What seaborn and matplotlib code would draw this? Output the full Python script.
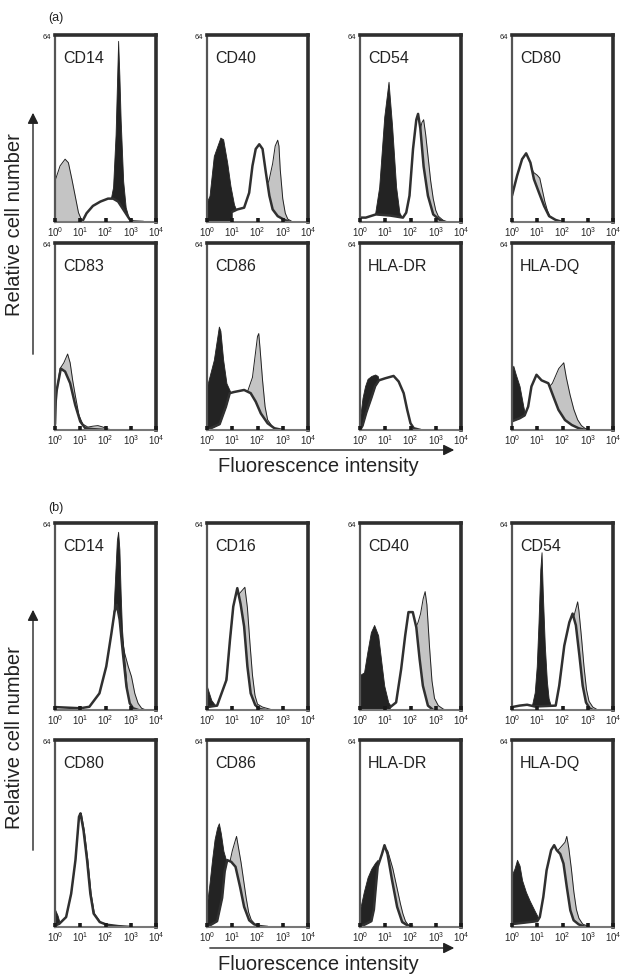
import numpy as np
import matplotlib
matplotlib.use("Agg")
import matplotlib.pyplot as plt
import seaborn as sns

# knots: (log10 fluorescence, cell count), 64 = top of the frame
# ---- panel set (a)
A_CD14_BLACK = [(2.1, 0), (2.2, 7.5), (2.3, 12), (2.4, 30), (2.5, 62), (2.55, 50), (2.6, 35),
                (2.7, 14), (2.8, 5), (2.9, 2), (3.0, 0.5), (3.1, 0)]
A_CD14_GRAY = [(0, 14), (0.2, 19.2), (0.4, 21.5), (0.53, 20.3), (0.67, 14.6), (0.8, 8.9),
               (0.93, 3.2), (1.07, 0.3), (1.2, 0)]
A_CD14_LINE = [(0.95, 0), (1.1, 0.5), (1.25, 3), (1.5, 5.5), (1.8, 7), (2.1, 8), (2.3, 8),
               (2.5, 7), (2.65, 5), (2.8, 3), (2.95, 1), (3.1, 0.2), (3.5, 0)]

A_CD40_BLACK = [(0, 7), (0.1, 9), (0.27, 22.6), (0.53, 28.9), (0.64, 28.3), (0.8, 20.3),
                (0.93, 12.3), (1.07, 6), (1.2, 3.2), (1.47, 2), (1.7, 1), (2.0, 0.3), (2.3, 0)]
A_CD40_GRAY = [(1.5, 0), (1.8, 5), (2.2, 10), (2.45, 14), (2.6, 20), (2.7, 26), (2.8, 28),
               (2.85, 26), (2.9, 18), (3.0, 8), (3.1, 3), (3.2, 1), (3.4, 0)]
A_CD40_LINE = [(1.0, 3.5), (1.2, 4.3), (1.47, 4.9), (1.67, 10), (1.8, 19.2), (1.93, 25),
               (2.07, 26.6), (2.2, 25), (2.33, 17), (2.47, 9), (2.6, 4.3), (2.8, 2),
               (3.07, 0.7), (3.3, 0)]

A_CD54_BLACK = [(0.5, 0), (0.6, 3), (0.76, 12), (0.96, 36), (1.13, 48), (1.27, 33), (1.43, 12),
                (1.56, 3.2), (1.7, 1), (1.9, 0)]
A_CD54_GRAY = [(1.8, 0), (2.0, 8), (2.2, 20), (2.35, 30), (2.45, 34), (2.52, 35), (2.6, 30),
               (2.7, 22), (2.8, 14), (2.9, 8), (3.0, 4), (3.1, 2), (3.3, 0.5), (3.4, 0)]
A_CD54_LINE = [(0, 1.5), (0.23, 1.5), (0.63, 2.6), (1.2, 2.2), (1.7, 1.5), (1.83, 3.2),
               (1.96, 9), (2.1, 25), (2.23, 35), (2.3, 37), (2.39, 32), (2.52, 19), (2.69, 9),
               (2.9, 2.6), (3.16, 0.7), (3.4, 0)]

A_CD80_BLACK = []
A_CD80_GRAY = [(0, 9), (0.2, 15.8), (0.4, 21.5), (0.56, 23.5), (0.7, 20), (0.85, 17), (1.0, 16),
               (1.1, 15), (1.2, 11), (1.3, 7), (1.4, 4), (1.5, 2), (1.7, 0.5), (2.0, 0)]
A_CD80_LINE = [(0, 9), (0.2, 15.8), (0.4, 21.5), (0.56, 23.5), (0.73, 20.3), (0.87, 14.6),
               (1.07, 10), (1.27, 5.5), (1.47, 2), (1.73, 0.7), (2.0, 0)]

A_CD83_BLACK = [(0, 3), (0.1, 2.5), (0.25, 0.5), (0.4, 0)]
A_CD83_GRAY = [(0, 10), (0.2, 21), (0.35, 23), (0.5, 26), (0.6, 23), (0.7, 17), (0.8, 12),
               (0.95, 5), (1.1, 2), (1.3, 1), (1.5, 1.3), (1.7, 1.5), (1.9, 1), (2.1, 0.3),
               (2.3, 0)]
A_CD83_LINE = [(0, 2), (0.03, 10), (0.07, 13.7), (0.23, 21), (0.4, 20), (0.6, 16), (0.8, 8.6),
               (1.0, 2.9), (1.2, 0.6), (1.5, 0.3), (2.0, 0)]

A_CD86_BLACK = [(0, 15), (0.27, 24), (0.47, 35.4), (0.53, 34), (0.64, 24), (0.77, 16),
                (0.9, 13.5), (1.1, 8), (1.3, 0)]
A_CD86_GRAY = [(1.4, 0), (1.6, 13), (1.8, 18), (1.9, 25), (2.0, 32), (2.05, 33), (2.1, 28),
               (2.2, 17), (2.3, 8), (2.4, 3.5), (2.6, 1), (2.8, 0)]
A_CD86_LINE = [(0, 0), (0.5, 2), (0.75, 8), (0.9, 12.6), (1.07, 13), (1.47, 13.7), (1.73, 12.6),
               (1.93, 9.7), (2.13, 5.7), (2.4, 2.3), (2.67, 0.6), (3.0, 0)]

A_HLADR_BLACK = [(0, 4), (0.1, 11), (0.2, 15), (0.3, 17.5), (0.45, 18.5), (0.6, 19), (0.7, 18.5),
                 (0.8, 15), (0.9, 8), (1.0, 3), (1.1, 0)]
A_HLADR_GRAY = []
A_HLADR_LINE = [(0, 0), (0.1, 1.5), (0.25, 6), (0.45, 11), (0.6, 15), (0.75, 17), (1.0, 17.7),
                (1.33, 18.5), (1.53, 16.6), (1.73, 12.6), (1.87, 6.9), (2.0, 2.3), (2.13, 0.6),
                (2.4, 0)]

A_HLADQ_BLACK = [(0, 20), (0.05, 22), (0.15, 19), (0.3, 15), (0.45, 8), (0.55, 4), (0.65, 2),
                 (0.8, 0.5), (1.0, 0)]
A_HLADQ_GRAY = [(1.2, 0), (1.5, 15), (1.6, 16), (1.7, 18), (1.85, 21), (1.95, 22), (2.05, 23),
                (2.15, 18), (2.3, 12), (2.45, 7), (2.6, 3.5), (2.75, 1.5), (2.9, 0.5), (3.1, 0)]
A_HLADQ_LINE = [(0, 3), (0.3, 4), (0.5, 5), (0.64, 8), (0.77, 14.9), (0.97, 18.9), (1.17, 17),
                (1.44, 16), (1.64, 11.4), (1.84, 6.9), (2.1, 3.4), (2.37, 1.7), (2.64, 0.6),
                (2.9, 0)]

# ---- panel set (b)
B_CD14_BLACK = [(2.0, 4), (2.1, 8), (2.25, 20), (2.35, 40), (2.45, 58), (2.5, 61), (2.55, 55),
                (2.6, 40), (2.65, 28), (2.7, 22), (2.75, 17), (2.8, 12), (2.85, 6), (2.9, 2),
                (3.0, 0)]
B_CD14_GRAY = [(2.2, 0), (2.5, 40), (2.65, 25), (2.76, 19.4), (2.9, 14.9), (3.03, 11.4),
               (3.16, 5.7), (3.29, 2.3), (3.43, 0.6), (3.6, 0)]
B_CD14_LINE = [(0, 1), (0.5, 0.8), (1.0, 0.6), (1.36, 1.1), (1.76, 5.7), (2.03, 14.9),
               (2.23, 26), (2.36, 33.7), (2.45, 36), (2.56, 30.9), (2.69, 19.4), (2.83, 8),
               (2.96, 2.3), (3.09, 0.6), (3.3, 0)]

B_CD16_BLACK = [(0, 8), (0.17, 3.4), (0.37, 1.1), (0.6, 0.3), (1.0, 0)]
B_CD16_GRAY = [(0.6, 0), (0.9, 20), (1.05, 33), (1.2, 38), (1.3, 40), (1.4, 41), (1.5, 42),
               (1.6, 35), (1.7, 23), (1.8, 12), (1.9, 5), (2.0, 2), (2.2, 1), (2.4, 0.5), (2.6, 0)]
B_CD16_LINE = [(0, 1), (0.4, 1.5), (0.77, 10.3), (0.91, 24), (1.04, 35.4), (1.2, 41.7),
               (1.33, 36.3), (1.47, 28.6), (1.6, 14.9), (1.73, 5.7), (1.91, 1.7), (2.1, 0.3),
               (2.3, 0)]

B_CD40_BLACK = [(0, 12), (0.16, 12.9), (0.29, 19.8), (0.43, 26.6), (0.56, 29.1), (0.72, 25.5),
                (0.83, 17.5), (0.96, 8.3), (1.12, 2.6), (1.29, 0.6), (1.5, 0)]
B_CD40_GRAY = [(1.6, 0), (2.2, 28), (2.3, 30), (2.4, 33), (2.5, 38), (2.58, 40.5), (2.65, 36),
               (2.75, 22), (2.85, 10), (2.95, 4), (3.1, 1.5), (3.3, 0.3), (3.4, 0)]
B_CD40_LINE = [(1.2, 1), (1.43, 2.6), (1.63, 14), (1.79, 25.5), (1.92, 33.5), (2.09, 33.5),
               (2.23, 28.3), (2.36, 17.5), (2.49, 8.3), (2.69, 1.5), (2.9, 0)]

B_CD54_BLACK = [(0.7, 0.5), (0.8, 2), (0.9, 6), (0.98, 15), (1.05, 30), (1.12, 48), (1.17, 54),
                (1.22, 40), (1.3, 22), (1.38, 10), (1.45, 4), (1.55, 1), (1.7, 0)]
B_CD54_GRAY = [(1.8, 0), (2.1, 20), (2.3, 28), (2.45, 32), (2.6, 37), (2.65, 34), (2.75, 25),
               (2.85, 15), (2.95, 7), (3.05, 3), (3.2, 1), (3.4, 0)]
B_CD54_LINE = [(0, 1), (0.3, 1.5), (0.6, 1.8), (0.9, 1.2), (1.73, 1.5), (1.87, 8.3), (2.07, 22),
               (2.27, 30), (2.4, 33), (2.53, 29), (2.67, 18.6), (2.8, 8.3), (2.93, 2.6),
               (3.07, 0.6), (3.2, 0)]

B_CD80_BLACK = [(0, 6), (0.1, 4), (0.2, 1), (0.3, 0)]
B_CD80_GRAY = [(0.2, 1.1), (0.47, 3.4), (0.67, 11.4), (0.84, 22.9), (0.98, 37.7), (1.04, 38.9),
               (1.16, 33), (1.3, 22.9), (1.43, 11.4), (1.56, 4.6), (1.8, 1.7), (2.07, 0.8),
               (2.5, 0.3), (3.0, 0)]
B_CD80_LINE = [(0, 0.5), (0.17, 1.1), (0.44, 3.4), (0.64, 11.4), (0.81, 22.9), (0.95, 37.7),
               (1.01, 38.9), (1.13, 33), (1.27, 22.9), (1.4, 11.4), (1.53, 4.6), (1.77, 1.7),
               (2.04, 0.8), (2.5, 0.3), (3.0, 0)]

B_CD86_BLACK = [(0, 8), (0.1, 15), (0.2, 23), (0.3, 30), (0.4, 34), (0.47, 35.5), (0.55, 32),
                (0.65, 26), (0.75, 23), (0.85, 18), (0.95, 12), (1.05, 6), (1.15, 2), (1.3, 0)]
B_CD86_GRAY = [(0.6, 0), (0.9, 22), (1.0, 26), (1.1, 29), (1.17, 31), (1.25, 27), (1.35, 22),
               (1.45, 16), (1.55, 10), (1.65, 5), (1.75, 2.5), (1.9, 1), (2.1, 0.3), (2.3, 0)]
B_CD86_LINE = [(0, 0), (0.4, 2), (0.6, 10), (0.7, 19), (0.8, 22.9), (0.96, 22.3), (1.13, 20.6),
               (1.31, 13.7), (1.47, 6.9), (1.67, 2.3), (1.87, 0.9), (2.1, 0.3), (2.4, 0)]

B_HLADR_BLACK = [(0, 6), (0.15, 12), (0.3, 17), (0.45, 20), (0.6, 22), (0.7, 23), (0.8, 19),
                 (0.9, 11), (1.0, 4), (1.1, 1), (1.2, 0)]
B_HLADR_GRAY = [(0.6, 0), (0.9, 25), (1.0, 27), (1.1, 26), (1.2, 23), (1.3, 20), (1.4, 16),
                (1.5, 12), (1.6, 8), (1.7, 4.5), (1.8, 2), (1.9, 0.8), (2.05, 0.2), (2.2, 0)]
B_HLADR_LINE = [(0, 0), (0.45, 2), (0.55, 6), (0.62, 13), (0.7, 20.6), (0.87, 25), (0.97, 28),
                (1.09, 25), (1.27, 16), (1.47, 6.9), (1.67, 1.7), (1.87, 0.6), (2.1, 0)]

B_HLADQ_BLACK = [(0, 18), (0.1, 20), (0.2, 23), (0.3, 21), (0.4, 16), (0.55, 12), (0.7, 9),
                 (0.9, 5.5), (1.05, 3), (1.25, 1.5), (1.45, 0.5), (1.6, 0)]
B_HLADQ_GRAY = [(1.3, 0), (1.7, 26), (1.8, 26), (1.9, 27), (2.0, 28), (2.1, 29), (2.17, 31),
                (2.25, 27), (2.35, 20), (2.45, 12), (2.55, 6), (2.65, 3), (2.8, 1), (3.0, 0.3),
                (3.1, 0)]
B_HLADQ_LINE = [(0, 1), (0.5, 1.5), (1.0, 2), (1.1, 3.4), (1.24, 10.3), (1.37, 19.4),
                (1.55, 26.3), (1.67, 28), (1.77, 26.3), (1.91, 25), (2.04, 21.7), (2.17, 13.7),
                (2.31, 5.7), (2.44, 2.3), (2.64, 0.9), (2.9, 0)]

PANELS_A = [("CD14", A_CD14_BLACK, A_CD14_GRAY, A_CD14_LINE),
            ("CD40", A_CD40_BLACK, A_CD40_GRAY, A_CD40_LINE),
            ("CD54", A_CD54_BLACK, A_CD54_GRAY, A_CD54_LINE),
            ("CD80", A_CD80_BLACK, A_CD80_GRAY, A_CD80_LINE),
            ("CD83", A_CD83_BLACK, A_CD83_GRAY, A_CD83_LINE),
            ("CD86", A_CD86_BLACK, A_CD86_GRAY, A_CD86_LINE),
            ("HLA-DR", A_HLADR_BLACK, A_HLADR_GRAY, A_HLADR_LINE),
            ("HLA-DQ", A_HLADQ_BLACK, A_HLADQ_GRAY, A_HLADQ_LINE)]
PANELS_B = [("CD14", B_CD14_BLACK, B_CD14_GRAY, B_CD14_LINE),
            ("CD16", B_CD16_BLACK, B_CD16_GRAY, B_CD16_LINE),
            ("CD40", B_CD40_BLACK, B_CD40_GRAY, B_CD40_LINE),
            ("CD54", B_CD54_BLACK, B_CD54_GRAY, B_CD54_LINE),
            ("CD80", B_CD80_BLACK, B_CD80_GRAY, B_CD80_LINE),
            ("CD86", B_CD86_BLACK, B_CD86_GRAY, B_CD86_LINE),
            ("HLA-DR", B_HLADR_BLACK, B_HLADR_GRAY, B_HLADR_LINE),
            ("HLA-DQ", B_HLADQ_BLACK, B_HLADQ_GRAY, B_HLADQ_LINE)]

DECADES = [1, 10, 100, 1000, 10000]
DECADE_LABELS = [r"$\mathregular{10^{0}}$", r"$\mathregular{10^{1}}$", r"$\mathregular{10^{2}}$",
                 r"$\mathregular{10^{3}}$", r"$\mathregular{10^{4}}$"]

sns.set_theme(style="white")
plt.rcParams["font.family"] = ["Liberation Sans", "DejaVu Sans"]
plt.rcParams["mathtext.fontset"] = "custom"
plt.rcParams["mathtext.rm"] = "Liberation Sans"

W, H = 629, 977
fig = plt.figure(figsize=(W / 100, H / 100), dpi=100)
fig.patch.set_facecolor("white")

LEFTS = [55, 207, 360, 512]
TOPS = [35, 243, 523, 740]
PW, PH = 101, 187


def to_xy(knots):
    d = np.array(knots, dtype=float)
    return 10 ** d[:, 0], d[:, 1]


def draw_panel(left, top, name, black, gray, line):
    ax = fig.add_axes([left / W, 1 - (top + PH) / H, PW / W, PH / H])
    if gray:
        x, y = to_xy(gray)
        ax.fill_between(x, 0, y, color="#c4c4c4", lw=0, zorder=2)
        sns.lineplot(x=x, y=y, ax=ax, color="#222222", lw=0.7, sort=False, zorder=3)
    if black:
        x, y = to_xy(black)
        ax.fill_between(x, 0, y, color="#232323", lw=0.6, edgecolor="#232323", zorder=4)
    if line:
        # the open histogram hides whatever lies under it
        x, y = to_xy(line)
        ax.fill_between(x, 0, y, color="white", lw=0, zorder=5)
        sns.lineplot(x=x, y=y, ax=ax, color="#303030", lw=1.8, sort=False, zorder=6)
    ax.set_xscale("log")
    ax.set_xlim(1, 10000)
    ax.set_ylim(0, 64)
    ax.set_yticks([])
    ax.set_xticks(DECADES)
    ax.set_xticklabels(DECADE_LABELS)
    ax.minorticks_off()
    ax.tick_params(axis="x", direction="in", length=3, width=2.6, color="#1a1a1a",
                   labelsize=7, pad=2.5, bottom=True)
    ax.xaxis.set_zorder(9)
    ax.set_xlabel("")
    ax.set_ylabel("")
    for s in ["top", "right"]:
        ax.spines[s].set_color("#2e2e2e")
        ax.spines[s].set_linewidth(2.6)
    ax.spines["left"].set_color("#555555")
    ax.spines["left"].set_linewidth(1.6)
    ax.spines["bottom"].set_color("#777777")
    ax.spines["bottom"].set_linewidth(1.5)
    for s in ax.spines.values():
        s.set_zorder(8)
    ax.text(0.08, 0.877, name, transform=ax.transAxes, fontsize=11.5, color="#222222",
            ha="left", va="center")
    ax.text(-0.04, 0.985, "64", transform=ax.transAxes, fontsize=5.5, color="#222222",
            ha="right", va="center")
    return ax


for row_top, panels in [(TOPS[0:2], PANELS_A), (TOPS[2:4], PANELS_B)]:
    for i, (name, black, gray, line) in enumerate(panels):
        draw_panel(LEFTS[i % 4], row_top[i // 4], name, black, gray, line)


def fig_arrow(x0, y0, x1, y1):
    fig.add_artist(matplotlib.patches.FancyArrowPatch(
        (x0 / W, 1 - y0 / H), (x1 / W, 1 - y1 / H), transform=fig.transFigure,
        arrowstyle="-|>", mutation_scale=16, lw=1.0, color="#222222"))


for tag, ty, vy0, vy1, hy, ly, ry in [("(a)", 18, 357, 110, 450, 466, 225),
                                       ("(b)", 508, 853, 607, 948, 964, 738)]:
    fig.text(56 / W, 1 - ty / H, tag, fontsize=9, ha="center", va="center", color="#222222")
    fig_arrow(33, vy0, 33, vy1)
    fig_arrow(207, hy, 457, hy)
    fig.text(318 / W, 1 - ly / H, "Fluorescence intensity", fontsize=14.5, ha="center",
             va="center", color="#222222")
    fig.text(15 / W, 1 - ry / H, "Relative cell number", fontsize=14.5, ha="center",
             va="center", rotation=90, color="#222222")

fig.savefig("out.png", dpi=100, facecolor="white")
